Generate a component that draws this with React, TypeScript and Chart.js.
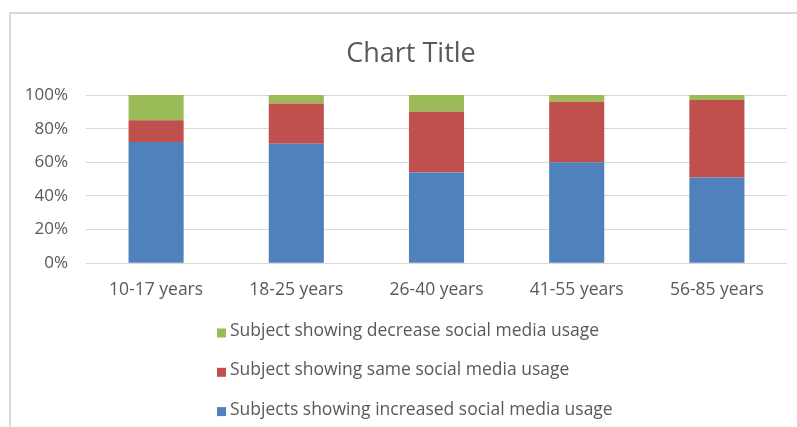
import React, { useEffect, useRef } from "react";
import { Chart, registerables } from "chart.js";

Chart.register(...registerables);

const categories = ["10-17 years", "18-25 years", "26-40 years", "41-55 years", "56-85 years"];
const increasedValues = [72, 71, 54, 60, 51];
const sameValues = [13, 24, 36, 36, 46];
const decreaseValues = [15, 5, 10, 4, 3];
const seriesNames = [
  "Subjects showing increased social media usage",
  "Subject showing same social media usage",
  "Subject showing decrease social media usage",
];
const seriesColors = ["#4F81BD", "#C0504D", "#9BBB59"];
const yTicks = [0, 20, 40, 60, 80, 100];

const TEXT = "#595959";
const FONT = '"Open Sans", sans-serif';

const stackedLegend = {
  id: "stackedLegend",
  afterLayout(chart: any) {
    if (chart.titleBlock) {
      chart.titleBlock.left += 24;
    }
  },
  afterDraw(chart: any) {
    const { ctx, chartArea } = chart;
    const ds = chart.data.datasets;
    ctx.save();
    ctx.font = `17.5px ${FONT}`;
    ctx.textBaseline = "middle";
    ctx.textAlign = "left";
    const n = ds.length;
    for (let i = 0; i < n; i++) {
      const d = ds[n - 1 - i];
      const cy = chartArea.bottom + 69.7 + 39.3 * i;
      ctx.fillStyle = d.backgroundColor;
      ctx.fillRect(206, cy - 4.5, 9, 9);
      ctx.fillStyle = TEXT;
      ctx.fillText(d.label, 219, cy - 1.8);
    }
    ctx.restore();
  },
};

export default function App() {
  const ref = useRef<HTMLCanvasElement | null>(null);

  useEffect(() => {
    if (!ref.current) return;
    const values = [increasedValues, sameValues, decreaseValues];
    const chart = new Chart(ref.current, {
      type: "bar",
      data: {
        labels: categories,
        datasets: values.map((v, i) => ({
          label: seriesNames[i],
          data: v,
          backgroundColor: seriesColors[i],
          borderWidth: 0,
          categoryPercentage: 1,
          barPercentage: 0.393,
        })),
      },
      options: {
        responsive: true,
        maintainAspectRatio: false,
        animation: false,
        layout: { padding: { left: 0, right: 10, top: 0, bottom: 0 } },
        plugins: {
          legend: { display: false },
          tooltip: { enabled: false },
          title: {
            display: true,
            text: "Chart Title",
            color: TEXT,
            font: { family: FONT, size: 27, weight: "normal" },
            padding: { top: 24, bottom: 24.6 },
          },
        },
        scales: {
          x: {
            stacked: true,
            grid: { display: false, drawTicks: false },
            border: { display: false },
            ticks: { color: TEXT, font: { family: FONT, size: 17.5 }, padding: 16.2 },
            afterFit: (s: any) => {
              s.height = 163.7;
            },
          },
          y: {
            stacked: true,
            min: yTicks[0],
            max: yTicks[yTicks.length - 1],
            afterBuildTicks: (s: any) => {
              s.ticks = yTicks.map((v) => ({ value: v }));
            },
            ticks: {
              color: TEXT,
              font: { family: FONT, size: 17 },
              padding: 18,
              callback: (v: any) => v + "%",
            },
            grid: { color: "#d9d9d9", lineWidth: 1, drawTicks: false },
            border: { display: false },
            afterFit: (s: any) => {
              s.width = 75;
            },
          },
        },
      } as any,
      plugins: [stackedLegend],
    });
    return () => chart.destroy();
  }, []);

  return (
    <div
      style={{
        position: "fixed",
        left: 9,
        top: 12,
        width: 788,
        height: 415,
        boxSizing: "border-box",
        borderLeft: "2px solid #d9d9d9",
        borderTop: "2px solid #d9d9d9",
        background: "#fff",
      }}
    >
      <div style={{ position: "relative", width: "100%", height: "100%" }}>
        <canvas ref={ref} />
      </div>
    </div>
  );
}
